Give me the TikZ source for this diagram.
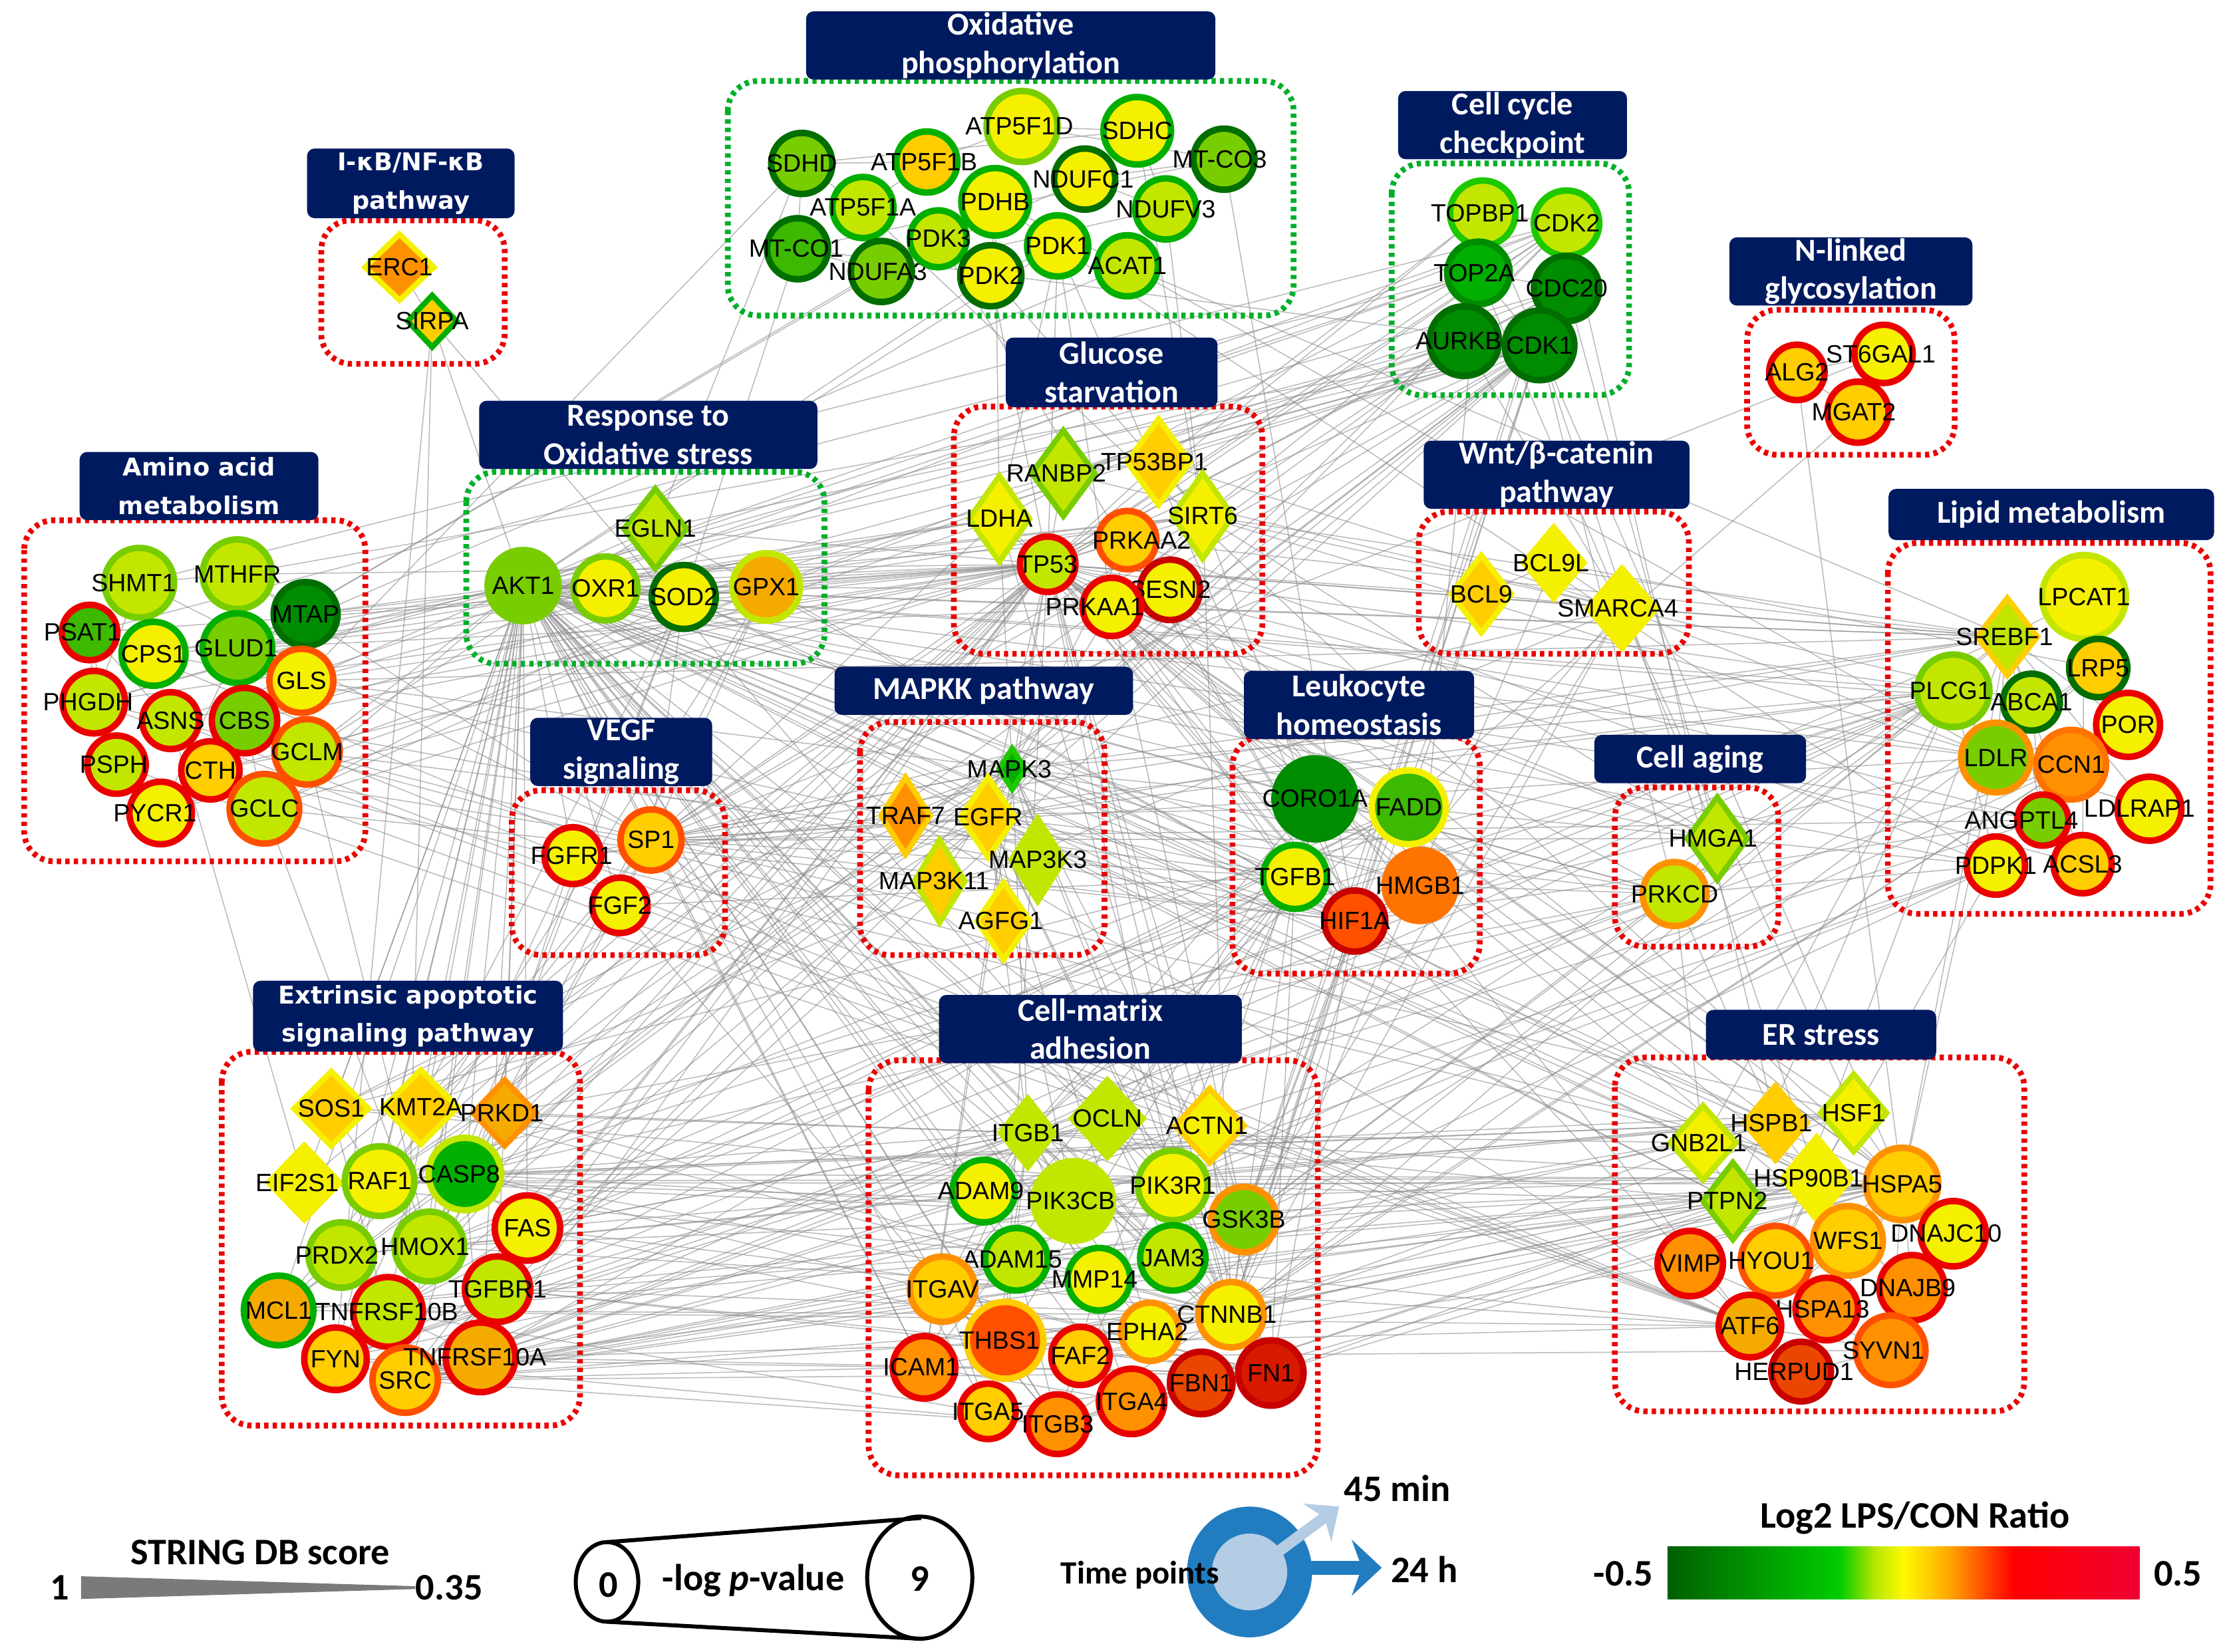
\documentclass[tikz,border=0pt]{standalone}
\usepackage{fontspec}
\usetikzlibrary{shapes.geometric}
\usetikzlibrary{arrows.meta}

\newfontfamily\genefam{Liberation Sans}
\newfontfamily\hdrfam{Carlito}
\newfontfamily\widefam{DejaVu Sans}
\newcommand{\genefont}{\genefam\fontsize{10}{12}\selectfont}
\newcommand{\hdrfont}{\hdrfam\bfseries\fontsize{12.8}{15.4}\selectfont}
\newcommand{\widefont}{\widefam\bfseries\fontsize{9.8}{15.4}\selectfont}
\newcommand{\lgdfont}{\hdrfam\bfseries\fontsize{15}{18}\selectfont}
% centred gene label that does not widen the node
\newcommand{\glab}[2]{\makebox[0pt]{\hspace*{#1}#2\hspace*{-#1}}}

\definecolor{cDG}{RGB}{0,110,0}
\definecolor{cDF}{RGB}{0,140,0}
\definecolor{cG}{RGB}{0,175,0}
\definecolor{cBG}{RGB}{30,200,0}
\definecolor{cMG}{RGB}{60,185,0}
\definecolor{cLG}{RGB}{120,205,0}
\definecolor{cYG}{RGB}{195,230,0}
\definecolor{cY}{RGB}{245,240,0}
\definecolor{cGo}{RGB}{255,205,0}
\definecolor{cAm}{RGB}{245,170,0}
\definecolor{cO}{RGB}{255,145,0}
\definecolor{cOR}{RGB}{255,115,0}
\definecolor{cRO}{RGB}{255,80,0}
\definecolor{cDO}{RGB}{235,70,0}
\definecolor{cRR}{RGB}{215,25,0}
\definecolor{cR}{RGB}{235,0,0}
\definecolor{cDR}{RGB}{200,0,0}
\definecolor{navy}{RGB}{0,26,96}
\definecolor{grpR}{RGB}{235,0,0}
\definecolor{grpG}{RGB}{0,175,40}
\definecolor{tpDark}{RGB}{33,125,192}
\definecolor{tpLight}{RGB}{180,204,228}
\definecolor{cb1}{RGB}{0,95,0}
\definecolor{cb2}{RGB}{0,205,0}
\definecolor{cb3}{RGB}{180,230,0}
\definecolor{cb4}{RGB}{255,250,0}
\definecolor{cb5}{RGB}{255,160,0}
\definecolor{cb6}{RGB}{255,0,0}
\definecolor{cb7}{RGB}{240,0,50}

\pgfdeclarelayer{bg}
\pgfsetlayers{bg,main}

\tikzset{
  gene/.style={circle, line width=2.6pt, inner sep=0pt, minimum size=0.86cm, text=black, font=\genefont},
  dia/.style={diamond, line width=2.2pt, inner sep=0pt, minimum width=0.92cm, minimum height=1.1cm, text=black, font=\genefont},
  edge/.style={draw=black!45, line width=0.4pt, opacity=0.6},
  grpred/.style={draw=grpR, line width=2.3pt, dash pattern=on 1.7pt off 1.7pt, rounded corners=0.42cm},
  grpgrn/.style={grpred, draw=grpG},
  hdr/.style={fill=navy, rounded corners=3pt, text=white, align=center, inner sep=0pt, font=\hdrfont},
  hdrw/.style={hdr, font=\widefont},
  lgd/.style={inner sep=0pt, font=\lgdfont},
}

\begin{document}
\begin{tikzpicture}[x=0.02cm, y=-0.02cm]
\useasboundingbox (0,0) rectangle (1568,1162);
\begin{pgfonlayer}{bg}
  \fill[white] (0,0) rectangle (1568,1162);
\end{pgfonlayer}

    %Groups
    \draw[grpgrn] (512,57) rectangle (910,222);
    \draw[grpred] (226,155) rectangle (355,256);
    \draw[grpgrn] (979,115) rectangle (1146,278);
    \draw[grpred] (1229,218) rectangle (1375,320);
    \draw[grpred] (671,286) rectangle (888,460);
    \draw[grpgrn] (328,332) rectangle (580,467);
    \draw[grpred] (17,366) rectangle (257,606);
    \draw[grpred] (998,360) rectangle (1188,460);
    \draw[grpred] (1328,382) rectangle (1555,643);
    \draw[grpred] (605,508) rectangle (777,672);
    \draw[grpred] (867,518) rectangle (1041,685);
    \draw[grpred] (360,556) rectangle (510,672);
    \draw[grpred] (1136,554) rectangle (1251,666);
    \draw[grpred] (156,740) rectangle (408,1003);
    \draw[grpred] (611,746) rectangle (927,1038);
    \draw[grpred] (1136,744) rectangle (1424,993);

    %Headers
    \node[hdr, minimum width=5.76cm, minimum height=0.96cm] (hOxphos) at (711,32) {Oxidative\\phosphorylation};
    \node[hdrw, minimum width=2.92cm, minimum height=0.98cm] (hIkb) at (289,129) {I-κB/NF-κB\\pathway};
    \node[hdr, minimum width=3.22cm, minimum height=0.96cm] (hCycle) at (1064,88) {Cell cycle\\checkpoint};
    \node[hdr, minimum width=3.42cm, minimum height=0.96cm] (hNlink) at (1302,191) {N-linked\\glycosylation};
    \node[hdr, minimum width=2.98cm, minimum height=0.98cm] (hGluc) at (782,262) {Glucose\\starvation};
    \node[hdr, minimum width=4.76cm, minimum height=0.96cm] (hResp) at (456,306) {Response to\\Oxidative stress};
    \node[hdrw, minimum width=3.36cm, minimum height=0.96cm] (hAmino) at (140,342) {Amino acid\\metabolism};
    \node[hdr, minimum width=3.74cm, minimum height=0.96cm] (hWnt) at (1095,334) {Wnt/β-catenin\\pathway};
    \node[hdr, minimum width=4.58cm, minimum height=0.72cm] (hLipid) at (1443,362) {Lipid metabolism};
    \node[hdr, minimum width=4.2cm, minimum height=0.68cm] (hMapkk) at (692,486) {MAPKK pathway};
    \node[hdr, minimum width=3.24cm, minimum height=0.96cm] (hLeuk) at (956,496) {Leukocyte\\homeostasis};
    \node[hdr, minimum width=2.56cm, minimum height=0.96cm] (hVegf) at (437,529) {VEGF\\signaling};
    \node[hdr, minimum width=2.98cm, minimum height=0.68cm] (hAging) at (1196,534) {Cell aging};
    \node[hdrw, minimum width=4.36cm, minimum height=1.0cm] (hApop) at (287,715) {Extrinsic apoptotic\\signaling pathway};
    \node[hdr, minimum width=4.26cm, minimum height=0.96cm] (hMatrix) at (767,724) {Cell-matrix\\adhesion};
    \node[hdr, minimum width=3.24cm, minimum height=0.7cm] (hEr) at (1281,728) {ER stress};

    % oxidative phosphorylation
    \node[gene, fill=cLG, draw=cDG] (SDHD) at (564,115) {\glab{0cm}{SDHD}};
    \node[gene, fill=cMG, draw=cDG] (MTCO1) at (561,175) {\glab{-0.02cm}{MT-CO1}};
    \node[gene, fill=cYG, draw=cG] (ATP5F1A) at (607,146) {\glab{0cm}{ATP5F1A}};
    \node[gene, fill=cGo, draw=cG] (ATP5F1B) at (652,114) {\glab{-0.04cm}{ATP5F1B}};
    \node[gene, fill=cLG, draw=cDG] (NDUFA3) at (620,191) {\glab{-0.05cm}{NDUFA3}};
    \node[gene, fill=cYG, draw=cG, minimum size=0.8cm] (PDK3) at (660,168) {\glab{0cm}{PDK3}};
    \node[gene, fill=cY, draw=cLG, minimum size=1.0cm] (ATP5F1D) at (719,89) {\glab{-0.04cm}{ATP5F1D}};
    \node[gene, fill=cY, draw=cG, minimum size=0.95cm] (PDHB) at (700,142) {\glab{0cm}{PDHB}};
    \node[gene, fill=cY, draw=cDG] (PDK2) at (697,194) {\glab{0cm}{PDK2}};
    \node[gene, fill=cY, draw=cG] (PDK1) at (744,173) {\glab{0cm}{PDK1}};
    \node[gene, fill=cY, draw=cDG] (NDUFC1) at (763,126) {\glab{-0.02cm}{NDUFC1}};
    \node[gene, fill=cY, draw=cG, minimum size=0.95cm] (SDHC) at (800,92) {\glab{0cm}{SDHC}};
    \node[gene, fill=cYG, draw=cG] (NDUFV3) at (820,147) {\glab{0cm}{NDUFV3}};
    \node[gene, fill=cYG, draw=cG] (ACAT1) at (793,187) {\glab{0cm}{ACAT1}};
    \node[gene, fill=cLG, draw=cDG] (MTCO3) at (861,112) {\glab{-0.06cm}{MT-CO3}};

    % I-kB / NF-kB
    \node[dia, fill=cO, draw=cY, minimum width=1.0cm, minimum height=0.96cm] (ERC1) at (281,188) {\glab{0cm}{ERC1}};
    \node[dia, fill=cGo, draw=cG, minimum width=0.72cm, minimum height=0.76cm] (SIRPA) at (304,226) {\glab{0cm}{SIRPA}};

    % amino acid metabolism
    \node[gene, fill=cYG, draw=cLG, minimum size=0.98cm] (SHMT1) at (98,410) {\glab{-0.08cm}{SHMT1}};
    \node[gene, fill=cYG, draw=cLG, minimum size=0.98cm] (MTHFR) at (167,404) {\glab{0cm}{MTHFR}};
    \node[gene, fill=cDF, draw=cDG, minimum size=0.9cm] (MTAP) at (215,432) {\glab{0cm}{MTAP}};
    \node[gene, fill=cMG, draw=cR, minimum size=0.78cm] (PSAT1) at (63,445) {\glab{-0.1cm}{PSAT1}};
    \node[gene, fill=cY, draw=cG, minimum size=0.9cm] (CPS1) at (108,460) {\glab{0cm}{CPS1}};
    \node[gene, fill=cLG, draw=cG, minimum size=0.98cm] (GLUD1) at (167,456) {\glab{-0.02cm}{GLUD1}};
    \node[gene, fill=cY, draw=cRO, minimum size=0.9cm] (GLS) at (212,479) {\glab{0cm}{GLS}};
    \node[gene, fill=cYG, draw=cR, minimum size=0.88cm] (PHGDH) at (66,494) {\glab{-0.08cm}{PHGDH}};
    \node[gene, fill=cYG, draw=cR, minimum size=0.8cm] (ASNS) at (120,507) {\glab{0cm}{ASNS}};
    \node[gene, fill=cLG, draw=cR, minimum size=0.92cm] (CBS) at (172,507) {\glab{0cm}{CBS}};
    \node[gene, fill=cYG, draw=cRO, minimum size=0.92cm] (GCLM) at (216,529) {\glab{0cm}{GCLM}};
    \node[gene, fill=cYG, draw=cR, minimum size=0.82cm] (PSPH) at (82,538) {\glab{-0.04cm}{PSPH}};
    \node[gene, fill=cGo, draw=cR, minimum size=0.82cm] (CTH) at (148,542) {\glab{0cm}{CTH}};
    \node[gene, fill=cY, draw=cR, minimum size=0.88cm] (PYCR1) at (113,572) {\glab{-0.08cm}{PYCR1}};
    \node[gene, fill=cYG, draw=cRO, minimum size=0.98cm] (GCLC) at (186,569) {\glab{0cm}{GCLC}};

    % response to oxidative stress
    \node[dia, fill=cYG, draw=cLG, minimum width=0.92cm, minimum height=1.16cm] (EGLN1) at (461,372) {\glab{0cm}{EGLN1}};
    \node[gene, fill=cLG, draw=cLG, minimum size=1.0cm] (AKT1) at (368,412) {\glab{0cm}{AKT1}};
    \node[gene, fill=cY, draw=cLG, minimum size=0.9cm] (OXR1) at (426,414) {\glab{0cm}{OXR1}};
    \node[gene, fill=cY, draw=cDG, minimum size=0.9cm] (SOD2) at (481,420) {\glab{0cm}{SOD2}};
    \node[gene, fill=cAm, draw=cYG, minimum size=0.95cm] (GPX1) at (539,413) {\glab{0cm}{GPX1}};

    % glucose starvation
    \node[dia, fill=cYG, draw=cLG, minimum width=0.92cm, minimum height=1.24cm] (RANBP2) at (748,333) {\glab{-0.1cm}{RANBP2}};
    \node[dia, fill=cGo, draw=cY, minimum width=0.92cm, minimum height=1.24cm] (TP53BP1) at (815,325) {\glab{-0.06cm}{TP53BP1}};
    \node[dia, fill=cY, draw=cYG, minimum width=0.88cm, minimum height=1.24cm] (LDHA) at (703,365) {\glab{0cm}{LDHA}};
    \node[dia, fill=cY, draw=cYG, minimum width=0.88cm, minimum height=1.24cm] (SIRT6) at (846,363) {\glab{0cm}{SIRT6}};
    \node[gene, fill=cGo, draw=cRO, minimum size=0.82cm] (PRKAA2) at (793,380) {\glab{0.2cm}{PRKAA2}};
    \node[gene, fill=cYG, draw=cR, minimum size=0.78cm] (TP53) at (737,397) {\glab{0cm}{TP53}};
    \node[gene, fill=cY, draw=cDR, minimum size=0.85cm] (SESN2) at (823,415) {\glab{0cm}{SESN2}};
    \node[gene, fill=cY, draw=cR, minimum size=0.82cm] (PRKAA1) at (782,427) {\glab{-0.24cm}{PRKAA1}};

    % cell cycle checkpoint
    \node[gene, fill=cYG, draw=cBG, minimum size=0.92cm] (TOPBP1) at (1043,150) {\glab{-0.04cm}{TOPBP1}};
    \node[gene, fill=cYG, draw=cBG, minimum size=0.92cm] (CDK2) at (1102,157) {\glab{0cm}{CDK2}};
    \node[gene, fill=cG, draw=cDF, minimum size=0.88cm] (TOP2A) at (1040,192) {\glab{-0.06cm}{TOP2A}};
    \node[gene, fill=cDF, draw=cDG, minimum size=0.92cm] (CDC20) at (1102,203) {\glab{0cm}{CDC20}};
    \node[gene, fill=cDF, draw=cDG, minimum size=0.98cm] (AURKB) at (1030,240) {\glab{-0.08cm}{AURKB}};
    \node[gene, fill=cDF, draw=cDG, minimum size=0.98cm] (CDK1) at (1083,243) {\glab{0cm}{CDK1}};

    % N-linked glycosylation
    \node[gene, fill=cGo, draw=cR, minimum size=0.78cm] (ALG2) at (1264,262) {\glab{0cm}{ALG2}};
    \node[gene, fill=cY, draw=cR, minimum size=0.82cm] (ST6GAL1) at (1325,249) {\glab{-0.04cm}{ST6GAL1}};
    \node[gene, fill=cGo, draw=cR, minimum size=0.86cm] (MGAT2) at (1307,290) {\glab{-0.06cm}{MGAT2}};

    % Wnt
    \node[dia, fill=cGo, draw=cY, minimum width=0.88cm, minimum height=1.12cm] (BCL9) at (1042,418) {\glab{0cm}{BCL9}};
    \node[dia, fill=cY, draw=cY, minimum width=0.88cm, minimum height=1.04cm] (BCL9L) at (1093,396) {\glab{-0.04cm}{BCL9L}};
    \node[dia, fill=cY, draw=cY, minimum width=1.0cm, minimum height=1.16cm] (SMARCA4) at (1141,428) {\glab{-0.06cm}{SMARCA4}};

    % lipid metabolism
    \node[gene, fill=cY, draw=cYG, minimum size=1.18cm] (LPCAT1) at (1466,420) {\glab{0cm}{LPCAT1}};
    \node[dia, fill=cYG, draw=cGo, minimum width=0.88cm, minimum height=1.12cm] (SREBF1) at (1412,448) {\glab{-0.04cm}{SREBF1}};
    \node[gene, fill=cGo, draw=cDG, minimum size=0.82cm] (LRP5) at (1476,470) {\glab{0cm}{LRP5}};
    \node[gene, fill=cYG, draw=cLG, minimum size=1.02cm] (PLCG1) at (1374,486) {\glab{-0.04cm}{PLCG1}};
    \node[gene, fill=cYG, draw=cDG, minimum size=0.8cm] (ABCA1) at (1429,494) {\glab{0cm}{ABCA1}};
    \node[gene, fill=cY, draw=cR, minimum size=0.9cm] (POR) at (1497,510) {\glab{0cm}{POR}};
    \node[gene, fill=cLG, draw=cO, minimum size=0.98cm] (LDLR) at (1404,533) {\glab{0cm}{LDLR}};
    \node[gene, fill=cO, draw=cOR, minimum size=0.98cm] (CCN1) at (1457,538) {\glab{0cm}{CCN1}};
    \node[gene, fill=cY, draw=cR, minimum size=0.9cm] (LDLRAP1) at (1512,569) {\glab{-0.14cm}{LDLRAP1}};
    \node[gene, fill=cLG, draw=cR, minimum size=0.72cm] (ANGPTL4) at (1437,577) {\glab{-0.3cm}{ANGPTL4}};
    \node[gene, fill=cY, draw=cR, minimum size=0.82cm] (PDPK1) at (1404,609) {\glab{0cm}{PDPK1}};
    \node[gene, fill=cGo, draw=cR, minimum size=0.82cm] (ACSL3) at (1465,608) {\glab{0cm}{ACSL3}};

    % MAPKK pathway
    \node[dia, fill=cG, draw=cBG, minimum width=0.4cm, minimum height=0.6cm] (MAPK3) at (712,541) {\glab{-0.04cm}{MAPK3}};
    \node[dia, fill=cO, draw=cGo, minimum width=0.72cm, minimum height=1.12cm] (TRAF7) at (637,574) {\glab{0cm}{TRAF7}};
    \node[dia, fill=cGo, draw=cY, minimum width=0.8cm, minimum height=1.16cm] (EGFR) at (695,575) {\glab{0cm}{EGFR}};
    \node[dia, fill=cYG, draw=cYG, minimum width=0.78cm, minimum height=1.2cm] (MAP3K3) at (730,605) {\glab{0cm}{MAP3K3}};
    \node[dia, fill=cGo, draw=cYG, minimum width=0.74cm, minimum height=1.2cm] (MAP3K11) at (661,620) {\glab{-0.08cm}{MAP3K11}};
    \node[dia, fill=cGo, draw=cY, minimum width=0.78cm, minimum height=1.12cm] (AGFG1) at (706,648) {\glab{-0.04cm}{AGFG1}};

    % VEGF signaling
    \node[gene, fill=cY, draw=cR, minimum size=0.8cm] (FGFR1) at (403,602) {\glab{-0.02cm}{FGFR1}};
    \node[gene, fill=cGo, draw=cRO, minimum size=0.86cm] (SP1) at (458,591) {\glab{0cm}{SP1}};
    \node[gene, fill=cY, draw=cR, minimum size=0.78cm] (FGF2) at (436,637) {\glab{0cm}{FGF2}};

    % leukocyte homeostasis
    \node[gene, fill=cDF, draw=cDF, minimum size=1.14cm] (CORO1A) at (925,562) {\glab{0cm}{CORO1A}};
    \node[gene, fill=cMG, draw=cY, minimum size=1.04cm] (FADD) at (991,568) {\glab{0cm}{FADD}};
    \node[gene, fill=cY, draw=cG, minimum size=0.9cm] (TGFB1) at (911,617) {\glab{0cm}{TGFB1}};
    \node[gene, fill=cOR, draw=cOR, minimum size=1.0cm] (HMGB1) at (999,623) {\glab{0cm}{HMGB1}};
    \node[gene, fill=cRO, draw=cDR, minimum size=0.86cm] (HIF1A) at (953,648) {\glab{0cm}{HIF1A}};

    % cell aging
    \node[dia, fill=cYG, draw=cLG, minimum width=0.88cm, minimum height=1.2cm] (HMGA1) at (1208,590) {\glab{-0.06cm}{HMGA1}};
    \node[gene, fill=cYG, draw=cO, minimum size=0.9cm] (PRKCD) at (1178,629) {\glab{0cm}{PRKCD}};

    % extrinsic apoptotic signaling
    \node[dia, fill=cGo, draw=cY, minimum width=1.08cm, minimum height=1.08cm] (SOS1) at (233,780) {\glab{0cm}{SOS1}};
    \node[dia, fill=cGo, draw=cY, minimum width=1.08cm, minimum height=1.08cm] (KMT2A) at (296,779) {\glab{0cm}{KMT2A}};
    \node[dia, fill=cAm, draw=cO, minimum width=0.92cm, minimum height=0.96cm] (PRKD1) at (355,783) {\glab{-0.04cm}{PRKD1}};
    \node[dia, fill=cY, draw=cY, minimum width=1.04cm, minimum height=1.08cm] (EIF2S1) at (214,832) {\glab{-0.1cm}{EIF2S1}};
    \node[gene, fill=cY, draw=cLG, minimum size=0.98cm] (RAF1) at (267,831) {\glab{0cm}{RAF1}};
    \node[gene, fill=cG, draw=cYG, minimum size=1.02cm] (CASP8) at (327,826) {\glab{-0.08cm}{CASP8}};
    \node[gene, fill=cY, draw=cR, minimum size=0.92cm] (FAS) at (371,864) {\glab{0cm}{FAS}};
    \node[gene, fill=cYG, draw=cLG, minimum size=0.92cm] (PRDX2) at (240,883) {\glab{-0.06cm}{PRDX2}};
    \node[gene, fill=cYG, draw=cLG, minimum size=0.98cm] (HMOX1) at (302,877) {\glab{-0.06cm}{HMOX1}};
    \node[gene, fill=cYG, draw=cR, minimum size=0.92cm] (TGFBR1) at (350,907) {\glab{0cm}{TGFBR1}};
    \node[gene, fill=cAm, draw=cG, minimum size=0.98cm] (MCL1) at (196,922) {\glab{0cm}{MCL1}};
    \node[gene, fill=cYG, draw=cR, minimum size=0.98cm] (TNFRSF10B) at (273,923) {\glab{-0.02cm}{TNFRSF10B}};
    \node[gene, fill=cGo, draw=cR, minimum size=0.88cm] (FYN) at (236,956) {\glab{0cm}{FYN}};
    \node[gene, fill=cGo, draw=cRO, minimum size=0.92cm] (SRC) at (285,971) {\glab{0cm}{SRC}};
    \node[gene, fill=cAm, draw=cR, minimum size=0.98cm] (TNFRSF10A) at (338,955) {\glab{-0.08cm}{TNFRSF10A}};

    % cell-matrix adhesion
    \node[dia, fill=cYG, draw=cYG, minimum width=0.8cm, minimum height=1.0cm] (ITGB1) at (723,797) {\glab{0cm}{ITGB1}};
    \node[dia, fill=cYG, draw=cYG, minimum width=1.04cm, minimum height=1.12cm] (OCLN) at (779,787) {\glab{0cm}{OCLN}};
    \node[dia, fill=cY, draw=cGo, minimum width=1.0cm, minimum height=1.08cm] (ACTN1) at (851,792) {\glab{-0.04cm}{ACTN1}};
    \node[gene, fill=cY, draw=cG, minimum size=0.88cm] (ADAM9) at (692,838) {\glab{-0.04cm}{ADAM9}};
    \node[gene, fill=cYG, draw=cYG, minimum size=1.12cm] (PIK3CB) at (755,845) {\glab{-0.04cm}{PIK3CB}};
    \node[gene, fill=cY, draw=cLG, minimum size=0.98cm] (PIK3R1) at (825,834) {\glab{0cm}{PIK3R1}};
    \node[gene, fill=cLG, draw=cO, minimum size=0.92cm] (GSK3B) at (875,858) {\glab{0cm}{GSK3B}};
    \node[gene, fill=cYG, draw=cG, minimum size=0.88cm] (ADAM15) at (715,886) {\glab{-0.06cm}{ADAM15}};
    \node[gene, fill=cYG, draw=cG, minimum size=0.92cm] (JAM3) at (825,885) {\glab{0cm}{JAM3}};
    \node[gene, fill=cY, draw=cG, minimum size=0.88cm] (MMP14) at (773,900) {\glab{-0.06cm}{MMP14}};
    \node[gene, fill=cGo, draw=cO, minimum size=0.92cm] (ITGAV) at (663,907) {\glab{0cm}{ITGAV}};
    \node[gene, fill=cY, draw=cO, minimum size=0.92cm] (CTNNB1) at (866,925) {\glab{-0.06cm}{CTNNB1}};
    \node[gene, fill=cY, draw=cO, minimum size=0.82cm] (EPHA2) at (809,937) {\glab{-0.04cm}{EPHA2}};
    \node[gene, fill=cRO, draw=cGo, minimum size=1.08cm] (THBS1) at (707,943) {\glab{-0.08cm}{THBS1}};
    \node[gene, fill=cGo, draw=cR, minimum size=0.82cm] (FAF2) at (760,954) {\glab{0cm}{FAF2}};
    \node[gene, fill=cO, draw=cR, minimum size=0.88cm] (ICAM1) at (650,962) {\glab{-0.04cm}{ICAM1}};
    \node[gene, fill=cDO, draw=cDR, minimum size=0.88cm] (FBN1) at (845,973) {\glab{0cm}{FBN1}};
    \node[gene, fill=cRR, draw=cDR, minimum size=0.92cm] (FN1) at (894,966) {\glab{0cm}{FN1}};
    \node[gene, fill=cO, draw=cR, minimum size=0.92cm] (ITGA4) at (796,986) {\glab{0cm}{ITGA4}};
    \node[gene, fill=cGo, draw=cR, minimum size=0.78cm] (ITGA5) at (695,993) {\glab{0cm}{ITGA5}};
    \node[gene, fill=cO, draw=cR, minimum size=0.84cm] (ITGB3) at (744,1002) {\glab{0cm}{ITGB3}};

    % ER stress
    \node[dia, fill=cY, draw=cYG, minimum width=0.96cm, minimum height=1.08cm] (GNB2L1) at (1198,804) {\glab{-0.06cm}{GNB2L1}};
    \node[dia, fill=cGo, draw=cGo, minimum width=0.92cm, minimum height=1.08cm] (HSPB1) at (1249,790) {\glab{-0.06cm}{HSPB1}};
    \node[dia, fill=cY, draw=cYG, minimum width=0.96cm, minimum height=1.12cm] (HSF1) at (1304,783) {\glab{0cm}{HSF1}};
    \node[dia, fill=cYG, draw=cLG, minimum width=0.88cm, minimum height=1.12cm] (PTPN2) at (1219,845) {\glab{-0.08cm}{PTPN2}};
    \node[dia, fill=cY, draw=cY, minimum width=1.0cm, minimum height=1.2cm] (HSP90B1) at (1278,829) {\glab{-0.12cm}{HSP90B1}};
    \node[gene, fill=cGo, draw=cO, minimum size=1.02cm] (HSPA5) at (1338,833) {\glab{0cm}{HSPA5}};
    \node[gene, fill=cY, draw=cR, minimum size=0.92cm] (DNAJC10) at (1374,868) {\glab{-0.1cm}{DNAJC10}};
    \node[gene, fill=cGo, draw=cO, minimum size=0.98cm] (WFS1) at (1300,873) {\glab{0cm}{WFS1}};
    \node[gene, fill=cGo, draw=cRO, minimum size=0.98cm] (HYOU1) at (1249,887) {\glab{-0.06cm}{HYOU1}};
    \node[gene, fill=cO, draw=cR, minimum size=0.92cm] (VIMP) at (1189,889) {\glab{0cm}{VIMP}};
    \node[gene, fill=cO, draw=cR, minimum size=0.92cm] (DNAJB9) at (1345,906) {\glab{-0.06cm}{DNAJB9}};
    \node[gene, fill=cO, draw=cR, minimum size=0.88cm] (HSPA13) at (1285,921) {\glab{-0.06cm}{HSPA13}};
    \node[gene, fill=cAm, draw=cR, minimum size=0.88cm] (ATF6) at (1231,933) {\glab{0cm}{ATF6}};
    \node[gene, fill=cO, draw=cRO, minimum size=0.98cm] (SYVN1) at (1330,950) {\glab{-0.1cm}{SYVN1}};
    \node[gene, fill=cDO, draw=cDR, minimum size=0.84cm] (HERPUD1) at (1267,965) {\glab{-0.1cm}{HERPUD1}};

    % interactions
    \begin{pgfonlayer}{bg}
    \foreach \a/\b in {SDHD/SDHC, SDHD/ATP5F1B, ATP5F1A/ATP5F1B, ATP5F1B/ATP5F1D, ATP5F1D/SDHC, NDUFC1/NDUFV3, NDUFA3/NDUFV3, NDUFA3/NDUFC1, MTCO1/MTCO3, MTCO1/NDUFA3, PDHB/PDK1, PDHB/PDK2, PDHB/PDK3, PDK1/PDK2, PDK2/PDK3, ACAT1/PDHB, SDHC/NDUFV3, MTCO3/NDUFC1, ATP5F1A/SDHD, ATP5F1D/MTCO3, SDHD/MTCO1, ATP5F1A/NDUFA3,
      TOPBP1/CDK2, TOPBP1/TOP2A, CDK2/CDC20, CDK1/CDC20, CDK1/AURKB, AURKB/CDC20, CDK1/TOP2A, AURKB/TOP2A, CDK2/CDK1, TOPBP1/CDK1, TOP2A/CDC20,
      ALG2/MGAT2, MGAT2/ST6GAL1, ALG2/ST6GAL1, ERC1/SIRPA,
      SHMT1/MTHFR, SHMT1/PSAT1, PSAT1/PHGDH, PHGDH/PSPH, PSAT1/PSPH, CPS1/GLUD1, GLUD1/GLS, CBS/CTH, CTH/GCLC, GCLC/GCLM, ASNS/PSAT1, PYCR1/GLUD1, MTAP/MTHFR, CBS/MTHFR, GLS/PYCR1, ASNS/PHGDH, CPS1/ASNS, SHMT1/PHGDH, CTH/GCLM, GLS/CPS1, CBS/GCLC,
      SOD2/GPX1, OXR1/SOD2,
      RANBP2/TP53BP1, TP53/TP53BP1, PRKAA1/PRKAA2, PRKAA1/SESN2, PRKAA2/SESN2, SIRT6/PRKAA1, SIRT6/TP53BP1,
      BCL9/BCL9L, BCL9/SMARCA4, BCL9L/SMARCA4,
      LDLR/LDLRAP1, LDLR/ABCA1, LDLR/SREBF1, ABCA1/ANGPTL4, ACSL3/LPCAT1, SREBF1/LPCAT1, SREBF1/ABCA1, SREBF1/ACSL3, SREBF1/ANGPTL4, SREBF1/POR, SREBF1/LDLRAP1, PLCG1/PDPK1, LRP5/LDLR, CCN1/LDLR,
      MAPK3/EGFR, MAPK3/MAP3K3, MAPK3/MAP3K11, MAPK3/TRAF7, EGFR/AGFG1, MAP3K3/MAP3K11, TRAF7/MAP3K3,
      FGFR1/FGF2, FGF2/SP1, FADD/HMGB1, HIF1A/HMGB1, TGFB1/HIF1A, CORO1A/TGFB1, HMGA1/PRKCD,
      CASP8/FAS, CASP8/TNFRSF10A, CASP8/TNFRSF10B, FAS/TNFRSF10B, SRC/FYN, RAF1/SOS1, MCL1/CASP8, HMOX1/PRDX2, TNFRSF10A/TNFRSF10B, TGFBR1/SRC, CASP8/RAF1, RAF1/HMOX1, EIF2S1/RAF1, FAS/TNFRSF10A, SOS1/SRC, FYN/TNFRSF10B,
      ITGB1/FN1, ITGB1/ITGA5, ITGB1/ITGA4, ITGB1/ITGAV, ITGB3/ITGAV, ITGB3/FN1, ITGB3/THBS1, ITGAV/FN1, ITGA5/FN1, ITGA4/FN1, FBN1/FN1, FBN1/ITGB3, ICAM1/ITGB1, ICAM1/ITGA4, PIK3CB/PIK3R1, PIK3R1/ITGB1, GSK3B/CTNNB1, ACTN1/ITGB1, ACTN1/CTNNB1, OCLN/JAM3, OCLN/CTNNB1, MMP14/ITGAV, MMP14/ITGB3, ADAM9/ITGB1, ADAM15/ITGB3, ADAM15/ITGAV, THBS1/ITGB1, THBS1/FN1, ITGA5/ITGAV, ITGB1/CTNNB1, PIK3CB/ITGB1, PIK3CB/GSK3B, PIK3R1/CTNNB1, EPHA2/ITGB1, ICAM1/FN1, JAM3/ITGB1, CTNNB1/EPHA2,
      HSPA5/HSP90B1, HSPA5/ATF6, HSPA5/HYOU1, HSPA5/SYVN1, HSPA5/HERPUD1, HSPA5/DNAJB9, HSPA5/DNAJC10, HSPA5/WFS1, HSPA5/HSPA13, SYVN1/HERPUD1, ATF6/HERPUD1, HSP90B1/HYOU1, HSPB1/HSF1, HSF1/HSP90B1, VIMP/SYVN1, HSF1/HSPA5, HSP90B1/HSPB1, ATF6/SYVN1, WFS1/ATF6, HYOU1/ATF6, HSP90B1/ATF6, GNB2L1/PTPN2, GNB2L1/HSPB1}
      \draw[edge] (\a) -- (\b);
    \foreach \b in {OXR1, SOD2, GPX1, EGLN1, TP53, PRKAA1, PRKAA2, SIRT6, EGFR, MAPK3, GSK3B, CTNNB1, PIK3CB, PIK3R1, ITGB1, SRC, CASP8, FAS, RAF1, SOS1, HMOX1, MCL1, HIF1A, TGFB1, HSP90B1, HSPA5, PDPK1, PLCG1, SREBF1, PRKCD, HMGA1, FGF2, FGFR1, SP1, FYN, TGFBR1, ITGAV, THBS1, ICAM1, FN1, ITGB3, MMP14, HMGB1, LDHA, GLS, MTAP, GCLM, GCLC, GLUD1, SIRPA, PRDX2, TNFRSF10A, TNFRSF10B, EIF2S1, KMT2A, ITGA5, ITGA4, ADAM9, ADAM15, JAM3, OCLN, ACTN1, CORO1A, FADD, PTPN2, GNB2L1, HSPB1, ATF6, LDLR, ABCA1, ANGPTL4, PRKD1, EPHA2, CDK1, CDK2, AURKB, TOP2A, PDK1, PDK2, SESN2, CPS1, PHGDH}
      \draw[edge] (AKT1) -- (\b);
    \foreach \b in {LDHA, SESN2, SIRT6, PRKAA1, PRKAA2, RANBP2, HIF1A, EGFR, MAPK3, SP1, HMGB1, TGFB1, CTNNB1, GSK3B, SRC, CASP8, FAS, TNFRSF10B, TNFRSF10A, MCL1, HMOX1, SOD2, GPX1, KMT2A, SMARCA4, HMGA1, PRKCD, ATF6, HSPA5, HSP90B1, GLS, PHGDH, EGLN1, RAF1, FN1, HSPB1, HSF1, THBS1, ICAM1, SREBF1, PLCG1, EIF2S1, FADD, TGFBR1, CDK1, CDK2, AURKB, CDC20, TOP2A, TOPBP1, PDK1, PDK2, MTAP, BCL9, DNAJB9, PIK3R1, CORO1A, ANGPTL4, OXR1, MTHFR, CBS, GLUD1, PSAT1, PYCR1, CTH, GCLC, ASNS}
      \draw[edge] (TP53) -- (\b);
    \foreach \a/\b in {PDK1/HIF1A, PDK1/LDHA, PDHB/LDHA, PDK3/HIF1A, ACAT1/SREBF1, MTCO1/SOD2, SDHD/EGLN1, PDHB/GLUD1, ACAT1/GLUD1, PDK1/PDPK1, NDUFA3/GLUD1, MTCO1/CDK1, SDHC/SIRT6, PDK1/PRKAA1, ACAT1/LDLR, MTCO3/HIF1A, NDUFV3/SIRT6, PDK2/SIRT6, ATP5F1A/HSPA5, SDHD/GLS,
      CDK1/SOD2, CDK2/SIRT6, CDK1/PRKAA1, AURKB/SIRT6, CDK1/EGFR, CDK2/EGFR, CDK1/MAPK3, CDK2/MAPK3, CDK1/CTNNB1, CDK2/CTNNB1, CDK1/GSK3B, CDK2/GSK3B, CDK1/HIF1A, CDC20/HMGA1, AURKB/SMARCA4, TOP2A/SMARCA4, TOP2A/HMGB1, CDK1/SRC, CDK2/SP1, CDK1/SP1, CDK1/MCL1, CDK1/CASP8, CDK1/RAF1, CDK2/LDHA, AURKB/KMT2A, CDK1/GLS, TOP2A/PSAT1, CDK1/HSP90B1, CDK1/HSPA5, CDK2/HSPB1, CDK1/PRKCD, TOPBP1/TP53BP1, RANBP2/CDK1, RANBP2/AURKB, TP53BP1/CDK1, CDC20/PHGDH, AURKB/GCLM, CDK2/SHMT1, CDK1/MTHFR, TOP2A/ASNS, CDC20/GPX1, CDK2/OXR1, CDK1/EGLN1,
      GCLC/HMOX1, GCLM/HMOX1, GCLC/SOD2, GCLC/GPX1, ASNS/ATF6, ASNS/HSPA5, CBS/SOD2, GLUD1/SIRT6, CTH/ATF6, PSAT1/ATF6, GLS/HIF1A, CPS1/LDHA, GCLM/TGFB1, GCLC/HIF1A, MTHFR/SP1, GLS/MAPK3, GLUD1/LDHA, PYCR1/LDHA, CTH/HSPA5, GCLM/ATF6, ASNS/EIF2S1, GCLM/SP1, PHGDH/ATF6, GLUD1/PRKAA1, SHMT1/SP1, PSPH/ATF6, CBS/HIF1A, GCLM/EGLN1, CTH/SP1, MTAP/SIRT6, GLS/SREBF1,
      SOD2/HIF1A, GPX1/HMOX1, SOD2/HMOX1, SOD2/SIRT6, GPX1/PRDX2, SOD2/PRDX2, SOD2/CASP8, GPX1/HIF1A, EGLN1/HIF1A, SOD2/SP1, GPX1/SP1, SOD2/TGFB1,
      LDHA/HIF1A, SIRT6/HIF1A, PRKAA1/SREBF1, PRKAA2/SREBF1, PRKAA1/GSK3B, PRKAA1/HMGA1, PRKAA1/HSPA5, SIRT6/SREBF1, SIRT6/CTNNB1, LDHA/MAPK3, LDHA/SP1, PRKAA1/HIF1A, PRKAA1/TGFB1, PRKAA2/HIF1A, SESN2/ATF6, SESN2/HSPA5, PRKAA1/LDLR, PRKAA1/ACSL3, PRKAA2/PDPK1, RANBP2/SMARCA4, SIRT6/SMARCA4, SIRT6/HMGA1, LDHA/CTNNB1, PRKAA1/EGFR, PRKAA2/MAPK3, TP53BP1/SMARCA4, SIRT6/LDLR,
      SIRPA/SRC, SIRPA/PIK3R1, SIRPA/FYN, MGAT2/ITGB1, ALG2/HSPA5, ST6GAL1/SP1,
      BCL9/CTNNB1, BCL9L/CTNNB1, SMARCA4/CTNNB1, SMARCA4/KMT2A, SMARCA4/HIF1A, SMARCA4/SP1, SMARCA4/SREBF1, SMARCA4/HMGA1, SMARCA4/LDLR, SMARCA4/ABCA1, BCL9/GSK3B, SMARCA4/HSF1, BCL9L/LRP5, SMARCA4/GSK3B,
      LRP5/CTNNB1, LRP5/GSK3B, PLCG1/EGFR, PLCG1/FGFR1, PLCG1/SRC, PDPK1/PIK3CB, PDPK1/PRKCD, CCN1/ITGAV, CCN1/ITGB1, CCN1/ITGB3, CCN1/CTNNB1, ANGPTL4/HIF1A, SREBF1/SP1, SREBF1/HIF1A, SREBF1/MAPK3, SREBF1/GSK3B, SREBF1/CTNNB1, SREBF1/EGFR, SREBF1/ATF6, SREBF1/HSPA5, PLCG1/PIK3R1, PLCG1/FYN, LDLR/HSPA5, PDPK1/PIK3R1, PDPK1/GSK3B, PDPK1/SRC, PLCG1/ITGB1, PLCG1/PRKCD, POR/HIF1A, ANGPTL4/ITGB1, LDLR/SP1, PLCG1/MAPK3, PLCG1/EPHA2, PLCG1/PTPN2, PLCG1/GNB2L1, PLCG1/SOS1, PLCG1/RAF1, PLCG1/CASP8, PLCG1/FAS, PDPK1/HSP90B1, ANGPTL4/SP1,
      MAPK3/RAF1, MAPK3/SOS1, EGFR/SOS1, EGFR/SRC, EGFR/PIK3R1, EGFR/PIK3CB, EGFR/CTNNB1, EGFR/ITGB1, EGFR/FYN, MAPK3/SP1, MAPK3/HIF1A, MAPK3/FGF2, MAPK3/FGFR1, MAPK3/ITGB1, MAPK3/FN1, MAPK3/PRKCD, MAPK3/CASP8, MAPK3/HMOX1, EGFR/HSP90B1, EGFR/PTPN2, EGFR/GNB2L1, EGFR/SP1, EGFR/HIF1A, EGFR/EPHA2, EGFR/TGFB1, MAPK3/GSK3B, MAPK3/HSPB1, MAPK3/CTNNB1, MAPK3/HMGB1, MAPK3/PDPK1, EGFR/FGFR1, EGFR/PRKD1, MAPK3/TGFBR1, MAPK3/ICAM1,
      FGFR1/SRC, FGF2/ITGB3, SP1/HIF1A, SP1/TGFB1, SP1/CTNNB1, SP1/KMT2A, SP1/SIRT6, SP1/HMGA1, FGF2/TGFB1, FGFR1/FYN, SP1/MCL1, SP1/HSF1, SP1/ICAM1, FGF2/HMOX1, SP1/HMOX1,
      FADD/CASP8, FADD/FAS, FADD/TNFRSF10A, FADD/TNFRSF10B, TGFB1/TGFBR1, TGFB1/FN1, TGFB1/THBS1, TGFB1/ITGB1, TGFB1/ITGAV, TGFB1/ITGB3, TGFB1/CTNNB1, TGFB1/MMP14, HIF1A/HMOX1, HIF1A/CTNNB1, HIF1A/GSK3B, HIF1A/HSP90B1, CORO1A/ITGB1, CORO1A/PIK3CB, CORO1A/PRKCD, TGFB1/HMOX1, TGFB1/ICAM1, CORO1A/ACTN1, FADD/TRAF7, HIF1A/FN1, HMGB1/PRKCD,
      PRKCD/EGFR, PRKCD/SRC, PRKCD/CASP8, PRKCD/HSPB1, PRKCD/GSK3B, PRKCD/PRKD1, PRKCD/FYN, PRKCD/GNB2L1,
      EIF2S1/ATF6, EIF2S1/HSPA5, EIF2S1/HSPB1, SRC/ITGB1, SRC/ITGB3, SRC/PIK3R1, SRC/CTNNB1, FYN/PIK3R1, FYN/ITGB1, SRC/EPHA2, SRC/ITGAV, SRC/GNB2L1, SRC/PTPN2, SRC/HSP90B1, MCL1/GSK3B, SOS1/PIK3R1, RAF1/HSP90B1, TNFRSF10B/ATF6, TNFRSF10B/HSPA5, CASP8/HSPB1, FAS/HSPB1, HMOX1/HSF1, SRC/FN1, CASP8/CTNNB1, SRC/ACTN1, SRC/ADAM15, SRC/OCLN, FYN/OCLN, CASP8/HSP90B1, MCL1/HSPA5, HMOX1/ATF6,
      FAS/ITGB1, TNFRSF10A/FN1, TGFBR1/ITGB1, TGFBR1/FN1, TGFBR1/THBS1, TGFBR1/CTNNB1, TNFRSF10A/HSPA5, FAS/CTNNB1, HMOX1/ITGB1, CASP8/ITGB1, CASP8/FN1, PRKD1/CTNNB1, PRKD1/ITGB1, FYN/ITGB3, FYN/ICAM1, SRC/ICAM1, SRC/JAM3, SRC/GSK3B, SRC/PIK3CB, RAF1/PIK3CB, RAF1/GSK3B, SOS1/ITGB1, KMT2A/CTNNB1, EIF2S1/HSF1, HMOX1/HSPA5, TNFRSF10A/ATF6, CASP8/GSK3B, FAS/FN1, MCL1/CTNNB1, TNFRSF10B/ITGB3, PRDX2/HSPB1,
      FAF2/HSPA5, FAF2/SYVN1, FAF2/VIMP, ITGB1/HSP90B1, ITGB1/GNB2L1, GSK3B/HSF1, PIK3R1/HSP90B1, PIK3R1/PTPN2, THBS1/HSPA5, ITGB1/PTPN2, CTNNB1/PTPN2, FN1/HSPA5, FN1/HSP90B1, GSK3B/HSPA5, THBS1/HSP90B1, PIK3CB/HSP90B1, CTNNB1/HSF1, CTNNB1/GNB2L1, EPHA2/PTPN2, ICAM1/HSPA5, FBN1/HSPA5, ITGAV/HSPA5, ITGB3/HSP90B1, JAM3/HSPB1, ITGA4/PTPN2}
      \draw[edge] (\a) -- (\b);
    \end{pgfonlayer}

    % legend: STRING DB score
    \node[lgd] (strT) at (183,1092) {STRING DB score};
    \node[lgd] (strHi) at (42,1117) {1};
    \node[lgd] (strLo) at (316,1117) {0.35};
    \fill[black!52] (57,1109) -- (292,1116) -- (292,1118) -- (57,1125) -- cycle;

    % legend: -log p-value
    \draw[line width=1.6pt] (427,1085) -- (648,1068) (427,1141) -- (648,1153);
    \draw[line width=1.6pt] (427,1113) ellipse [x radius=0.44cm, y radius=0.56cm];
    \draw[line width=1.6pt] (647,1110) ellipse [x radius=0.74cm, y radius=0.86cm];
    \node[lgd] (pv0) at (428,1115) {0};
    \node[lgd] (pv9) at (647,1111) {9};
    \node[lgd] (pvT) at (530,1112) {-log \textit{p}-value};

    % legend: time points
    \fill[tpDark] (879,1106) ellipse [x radius=0.88cm, y radius=0.92cm];
    \fill[tpLight] (879,1106) ellipse [x radius=0.53cm, y radius=0.54cm];
    \draw[tpDark, line width=5.5pt, -{Stealth[length=0.42cm, width=0.78cm, inset=0.14cm]}] (915,1103) -- (972,1103);
    \draw[tpLight, line width=4.5pt, -{Stealth[length=0.38cm, width=0.66cm, inset=0.12cm]}] (896,1094) -- (942,1060);
    \node[lgd] (tp45) at (983,1047) {45 min};
    \node[lgd] (tp24) at (1002,1104) {24 h};
    \node[lgd, font=\hdrfam\bfseries\fontsize{13}{15}\selectfont] (tpT) at (802,1108) {Time points};

    % legend: colour scale
    \node[lgd] (cbT) at (1347,1068) {Log2 LPS/CON Ratio};
    \shade[left color=cb1, right color=cb2] (1173,1088) rectangle (1294.5,1125);
    \shade[left color=cb2, right color=cb3] (1294,1088) rectangle (1318.5,1125);
    \shade[left color=cb3, right color=cb4] (1318,1088) rectangle (1339.5,1125);
    \shade[left color=cb4, right color=cb5] (1339,1088) rectangle (1373.5,1125);
    \shade[left color=cb5, right color=cb6] (1373,1088) rectangle (1416.5,1125);
    \shade[left color=cb6, right color=cb7] (1416,1088) rectangle (1505,1125);
    \node[lgd] (cbLo) at (1142,1107) {-0.5};
    \node[lgd] (cbHi) at (1532,1107) {0.5};
\end{tikzpicture}
\end{document}
